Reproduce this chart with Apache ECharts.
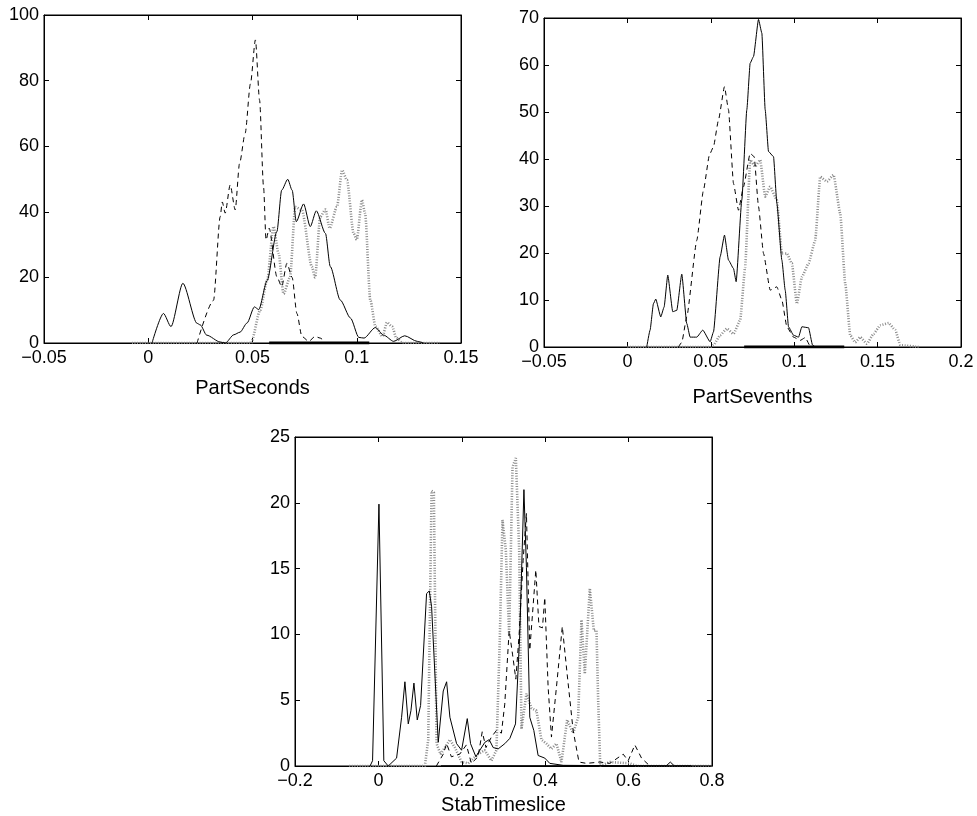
<!DOCTYPE html>
<html>
<head>
<meta charset="utf-8">
<script src="https://cdn.jsdelivr.net/npm/echarts@6/dist/echarts.min.js"></script>
<style>
  html, body { margin: 0; padding: 0; background: #fff; }
  #chart { width: 977px; height: 816px; }
</style>
</head>
<body>
<div id="chart"></div>
<script>
// --- data: [x, density] pairs ---
var secondsSolid = [[0.0018,0],[0.0073,9],[0.0109,5],[0.0166,18.2],[0.0234,6],[0.025,5.5],[0.028,2.4],[0.0345,0.3],[0.037,0],[0.041,2.5],[0.044,3.3],[0.0474,6.1],[0.0509,11],[0.053,10.2],[0.057,19],[0.0617,34],[0.064,46.6],[0.0669,49.9],[0.069,46.6],[0.071,37],[0.0745,42.4],[0.0777,35.5],[0.0806,40.3],[0.085,33.4],[0.0873,23.3],[0.0921,13.1],[0.097,7.6],[0.101,1.7],[0.1035,1.5],[0.1089,4.7],[0.1129,2.4],[0.1177,0.5],[0.123,2.2],[0.129,0.5],[0.132,0]];
var secondsDashed = [[0.0234,0],[0.0313,13],[0.0345,38.5],[0.0355,43],[0.0369,39.6],[0.0393,48.2],[0.0417,40.6],[0.0438,54.8],[0.0465,64],[0.049,79],[0.0514,92.4],[0.0534,74],[0.0553,47.6],[0.0565,31.4],[0.058,35],[0.0617,20.2],[0.064,17.2],[0.0665,24.3],[0.069,20],[0.0713,9],[0.0737,2],[0.077,0.5],[0.08,2],[0.0825,1.5],[0.085,0]];
var secondsDotted = [[-0.0078,0],[0.0493,0],[0.0537,10],[0.057,19],[0.0601,35.5],[0.0625,27.3],[0.0649,15],[0.068,20],[0.0705,41.5],[0.0737,40.5],[0.0785,23.2],[0.08,20],[0.0825,38.5],[0.085,40.7],[0.087,35],[0.0905,41.5],[0.093,52.7],[0.0953,49.7],[0.0985,33.4],[0.1,31.5],[0.1025,43.6],[0.104,39.5],[0.1065,13.1],[0.109,5],[0.1124,2],[0.1145,6.3],[0.117,5],[0.119,1.5],[0.122,0],[0.1398,0]];
var secondsRug = [0.058, 0.106];

var seventhsSolid = [[0.0116,0],[0.0136,3.6],[0.0156,9.2],[0.017,10.2],[0.02,6.4],[0.022,8.5],[0.0242,15.3],[0.0272,7.5],[0.0296,7.8],[0.0326,15.5],[0.0356,5],[0.0376,2.1],[0.0416,2.1],[0.0452,3.6],[0.0496,1.1],[0.0516,3.2],[0.0556,19.2],[0.0582,23.8],[0.0606,18.5],[0.0636,16.7],[0.0652,13.9],[0.0686,31.3],[0.0716,50.5],[0.0736,60.4],[0.0756,61.8],[0.0786,69.7],[0.0806,66.8],[0.0826,50.5],[0.0846,41.6],[0.0876,40.5],[0.0896,30.6],[0.0926,18.5],[0.0946,12.1],[0.0966,4.3],[0.0996,2.5],[0.1026,2.1],[0.1046,4.3],[0.1086,4.1],[0.111,0.4],[0.1126,0]];
var seventhsDashed = [[0.0306,0],[0.0326,1],[0.0356,6.4],[0.0416,22.7],[0.0456,33.4],[0.0492,40.9],[0.0516,42.6],[0.0546,48.3],[0.0582,55.4],[0.0606,50.5],[0.0636,34.8],[0.0666,29.1],[0.0696,34.1],[0.0736,41.2],[0.076,40.5],[0.0786,29.9],[0.0816,19.9],[0.0856,12.1],[0.0896,12.8],[0.0926,10],[0.0956,4.3],[0.0996,2.1],[0.1036,1.4],[0.1066,2],[0.1096,0]];
var seventhsDotted = [[0,0],[0.05,0],[0.0516,0.4],[0.0556,2.5],[0.0596,3.9],[0.0636,2.8],[0.0676,5.7],[0.0706,17],[0.0736,39.8],[0.0766,38.4],[0.0796,39.8],[0.0826,32],[0.0856,34.1],[0.0896,31.3],[0.0926,19.9],[0.0956,19.9],[0.0986,17.8],[0.1016,9.2],[0.1046,14.9],[0.1086,17.8],[0.1126,22.7],[0.1156,36.2],[0.1196,35.2],[0.1236,36.6],[0.1276,28.4],[0.1306,13.5],[0.1336,2.5],[0.1366,1],[0.1396,2.1],[0.1436,0.7],[0.1476,2.8],[0.1516,4.6],[0.1566,5.1],[0.1606,3.6],[0.1636,0.4],[0.1746,0]];
var seventhsRug = [0.07, 0.13];

var stabSolid = [[-0.02,0],[-0.014,0.4],[0.0013,19.9],[0.013,0.4],[0.0236,0],[0.0436,0.6],[0.0556,3.7],[0.0636,6.4],[0.0716,3.2],[0.078,4.2],[0.0852,6.3],[0.0932,3.5],[0.1012,4.6],[0.1155,13.1],[0.122,13.3],[0.1276,12.1],[0.1435,1.8],[0.1555,5.7],[0.1636,6.4],[0.1715,3.7],[0.1875,1.7],[0.1995,1.2],[0.2131,3.6],[0.221,1.7],[0.2338,0.7],[0.2433,1.2],[0.2553,1.8],[0.2657,2],[0.2753,1.4],[0.2872,1.3],[0.3032,1.7],[0.3152,2.1],[0.3288,3.2],[0.339,10],[0.349,21],[0.355,15.1],[0.363,3.7],[0.3727,2.7],[0.383,0.8],[0.399,0.6],[0.411,0.2],[0.443,0.05],[0.69,0],[0.7,0.3],[0.71,0],[0.8,0]];
var stabDashed = [[0.139,0],[0.1555,0.9],[0.1636,1.7],[0.175,0.7],[0.195,0.9],[0.211,1.6],[0.223,0.2],[0.239,0.7],[0.249,2.6],[0.258,1.4],[0.271,2.2],[0.283,2.7],[0.295,2.5],[0.303,4.7],[0.3136,10.3],[0.3216,8.5],[0.3296,6.6],[0.3375,10],[0.347,15.6],[0.355,19.2],[0.363,8.8],[0.3775,14.9],[0.385,10.6],[0.3934,10.5],[0.399,12.8],[0.407,6],[0.415,2.2],[0.427,6],[0.441,10.6],[0.4526,7],[0.467,2.7],[0.481,0.3],[0.499,0.2],[0.531,0.3],[0.555,0.2],[0.587,0.9],[0.599,0.4],[0.615,1.6],[0.631,0.6],[0.651,0]];
var stabDotted = [[-0.07,0],[0.1115,0],[0.1195,2],[0.1275,20.9],[0.133,20.8],[0.1395,1.7],[0.149,0.9],[0.1595,1.4],[0.1715,2],[0.1835,1.4],[0.1995,0.3],[0.2155,0.2],[0.239,0.9],[0.255,1.2],[0.271,0.4],[0.283,1.2],[0.291,9.5],[0.2976,18.7],[0.3056,16.4],[0.3136,10],[0.3216,22.7],[0.3296,23.4],[0.3376,16.4],[0.3431,2.8],[0.355,5.5],[0.367,4.4],[0.379,4.2],[0.391,2],[0.403,1.7],[0.415,1.3],[0.427,1.7],[0.439,0.3],[0.4526,3.5],[0.467,2.5],[0.479,3.7],[0.487,11.1],[0.495,7],[0.507,13.5],[0.5165,10.3],[0.523,10.3],[0.527,5],[0.532,0],[0.555,0.3],[0.603,0.2],[0.62,0],[0.8,0]];
var stabRug = [0.15, 0.75];

var axisNames = ['PartSeconds', 'PartSevenths', 'StabTimeslice'];
var xRanges = [[-0.05, 0.15, 0.05], [-0.05, 0.2, 0.05], [-0.2, 0.8, 0.2]];
var yRanges = [[0, 100, 20], [0, 70, 10], [0, 25, 5]];

var FONT = 'Liberation Sans';
var chart = echarts.init(document.getElementById('chart'), null, { renderer: 'canvas' });

var grids = [
    { left: 44, top: 15, width: 417, height: 328 },
    { left: 544, top: 18, width: 417, height: 329 },
    { left: 295, top: 437, width: 417, height: 329 }
];
var nameGaps = [35, 40, 29];
var smoothness = [0.25, 0.15, 0];

function fmt(v) {
    return String(+v.toFixed(4)).replace('-', '\u2212');
}

var xAxes = [], yAxes = [], series = [];
var panels = [
    [secondsSolid, secondsDashed, secondsDotted, secondsRug],
    [seventhsSolid, seventhsDashed, seventhsDotted, seventhsRug],
    [stabSolid, stabDashed, stabDotted, stabRug]
];

grids.forEach(function (g, i) {
    g.show = true;
    g.borderColor = '#000';
    g.borderWidth = 1;
    g.containLabel = false;
    var xr = xRanges[i], yr = yRanges[i];
    var tick = { show: true, inside: true, length: 5, lineStyle: { color: '#000' } };
    var line = { show: true, onZero: false, lineStyle: { color: '#000', width: 1 } };
    // bottom / left axes with labels
    xAxes.push({
        type: 'value', gridIndex: i, min: xr[0], max: xr[1], interval: xr[2],
        position: 'bottom', name: axisNames[i], nameLocation: 'middle', nameGap: nameGaps[i],
        nameTextStyle: { fontFamily: FONT, fontSize: 20, color: '#000' },
        axisLine: line, axisTick: tick,
        axisLabel: { fontFamily: FONT, fontSize: 18, color: '#000', margin: 6, formatter: fmt },
        splitLine: { show: false }
    });
    yAxes.push({
        type: 'value', gridIndex: i, min: yr[0], max: yr[1], interval: yr[2],
        position: 'left',
        axisLine: line, axisTick: tick,
        axisLabel: { fontFamily: FONT, fontSize: 18, color: '#000', margin: 5 },
        splitLine: { show: false }
    });
    // mirrored top / right axes, ticks only
    xAxes.push({
        type: 'value', gridIndex: i, min: xr[0], max: xr[1], interval: xr[2],
        position: 'top', axisLine: line, axisTick: tick,
        axisLabel: { show: false }, splitLine: { show: false }
    });
    yAxes.push({
        type: 'value', gridIndex: i, min: yr[0], max: yr[1], interval: yr[2],
        position: 'right', axisLine: line, axisTick: tick,
        axisLabel: { show: false }, splitLine: { show: false }
    });

    var p = panels[i];
    var xi = i * 2, yi = i * 2;
    series.push({
        type: 'line', xAxisIndex: xi, yAxisIndex: yi, data: p[2], symbol: 'none',
        smooth: smoothness[i], smoothMonotone: 'x',
        lineStyle: { color: '#8a8a8a', width: 2.6, type: [1, 1.6] }, z: 2
    });
    series.push({
        type: 'line', xAxisIndex: xi, yAxisIndex: yi, data: p[1], symbol: 'none',
        smooth: smoothness[i], smoothMonotone: 'x',
        lineStyle: { color: '#000', width: 1, type: [5, 4] }, z: 3
    });
    series.push({
        type: 'line', xAxisIndex: xi, yAxisIndex: yi, data: p[0], symbol: 'none',
        smooth: smoothness[i], smoothMonotone: 'x',
        lineStyle: { color: '#000', width: 1 }, z: 4
    });
    series.push({
        type: 'line', xAxisIndex: xi, yAxisIndex: yi,
        data: p[3].map(function (x) { return [x, 0]; }), symbol: 'none',
        lineStyle: { color: '#000', width: i === 2 ? 1.5 : 3 }, z: 5
    });
});

var option = {
    backgroundColor: '#fff',
    animation: false,
    grid: grids,
    xAxis: xAxes,
    yAxis: yAxes,
    series: series
};
chart.setOption(option);
</script>
</body>
</html>
